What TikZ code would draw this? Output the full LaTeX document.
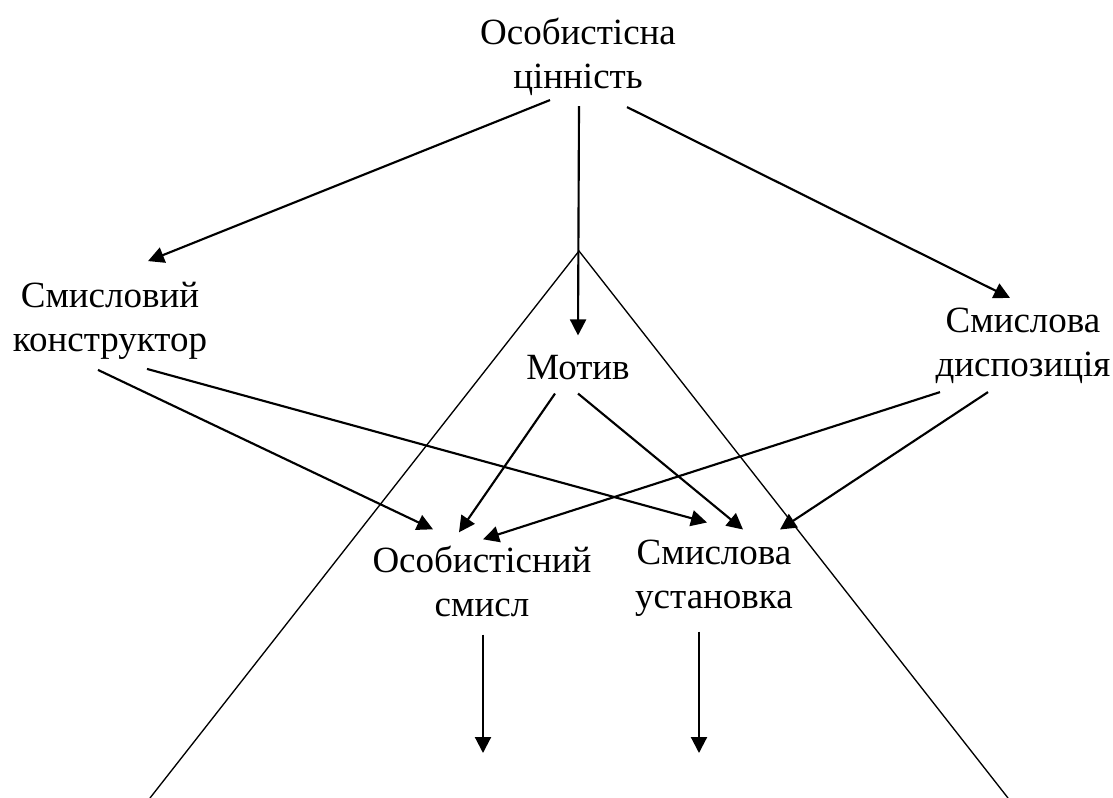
\documentclass[tikz,border=0pt]{standalone}
\usepackage{fontspec}
\setmainfont{Liberation Serif}
\usepackage{tikz}
\usetikzlibrary{arrows.meta}

\begin{document}
\begin{tikzpicture}[x=0.75pt,y=-0.75pt,
	arr/.style={-{Triangle[length=12pt,width=12pt]},line width=1.6pt},
	thin line/.style={line width=1pt},
	main node/.style={align=center,inner sep=0pt,font=\fontsize{27.75}{33}\selectfont}]
	
	\useasboundingbox (0,0) rectangle (1113,798);
	
	\node[main node] (cin) at (578,57) {Особистісна\\цінність};
	\node[main node] (kon) at (110,321) {Смисловий\\конструктор};
	\node[main node] (mot) at (578,368) {Мотив};
	\node[main node] (disp) at (1023,346) {Смислова\\диспозиція};
	\node[main node] (sens) at (482,581) {Особистісний\\смисл};
	\node[main node] (ust) at (714,578) {Смислова\\установка};
	
	\coordinate (apex) at (579,251);
	\coordinate (lfoot) at (150,798);
	\coordinate (rfoot) at (1008,798);
	\coordinate (sensend) at (483,753);
	\coordinate (ustend) at (699,753);
	
	% the big triangle
	\draw[thin line] (lfoot) -- (apex) -- (rfoot);
	
	\path[arr]
	([shift={(-28,4)}]cin.south) edge ([shift={(38,-21)}]kon.north)
	([shift={(1,10)}]cin.south) edge ([shift={(0,-20)}]mot.north)
	([shift={(49,11)}]cin.south) edge ([shift={(-13,-10)}]disp.north)
	([shift={(-12,10)}]kon.south) edge ([shift={(-49,-16)}]sens.north)
	([shift={(37,9)}]kon.south) edge ([shift={(-7,-17)}]ust.north)
	([shift={(-23,13)}]mot.south) edge ([shift={(-23,-13)}]sens.north)
	([shift={(0,13)}]mot.south) edge ([shift={(29,-10)}]ust.north)
	([shift={(-83,8)}]disp.south) edge ([shift={(1,-6)}]sens.north)
	([shift={(-35,8)}]disp.south) edge ([shift={(66,-10)}]ust.north)
	([shift={(1,18)}]sens.south) edge (sensend)
	([shift={(-15,15)}]ust.south) edge (ustend);
\end{tikzpicture}
\end{document}
